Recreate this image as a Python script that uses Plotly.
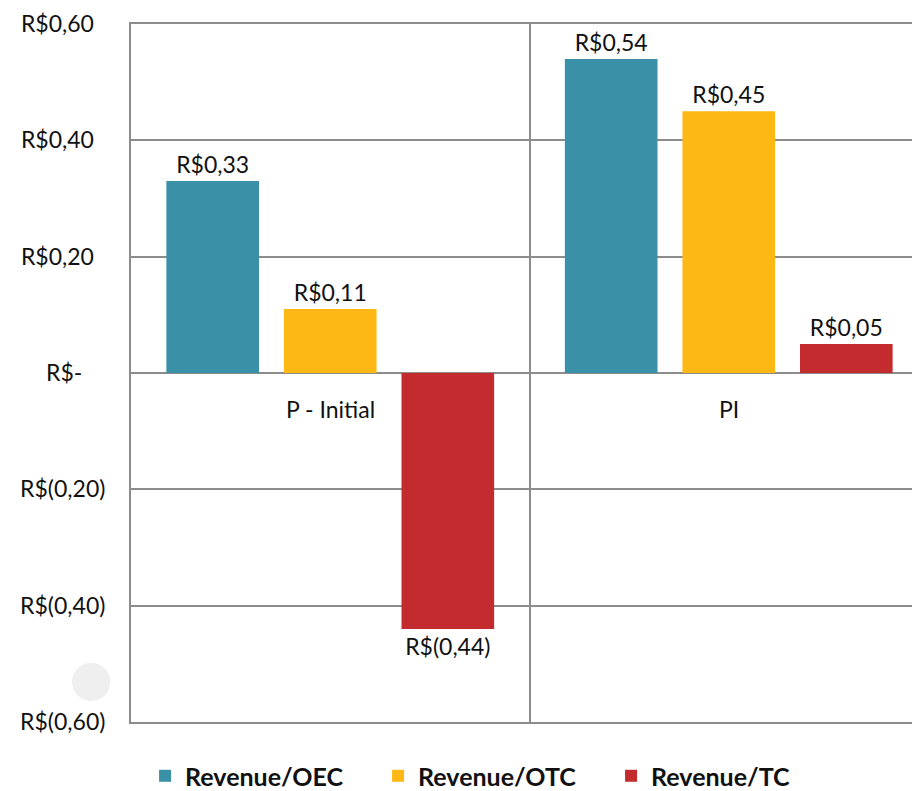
import plotly.graph_objects as go

categories = ["P - Initial", "PI"]
series_names = ["Revenue/OEC", "Revenue/OTC", "Revenue/TC"]
oec = [0.33, 0.54]
otc = [0.11, 0.45]
tc = [-0.44, 0.05]
series_values = [oec, otc, tc]
colors = ["#3A90A7", "#FDB813", "#C42B2F"]

tick_vals = [0.6, 0.4, 0.2, 0.0, -0.2, -0.4, -0.6]
tick_text = ["R$0,60\u2002", "R$0,40\u2002", "R$0,20\u2002", "R$-\u2002\u2002", "R$(0,20)", "R$(0,40)", "R$(0,60)"]


def fmt(v):
    s = f"{abs(v):.2f}".replace(".", ",")
    return f"R$({s})" if v < 0 else f"R${s}"


FONT = "Lato"
fig = go.Figure()
for name, vals, col in zip(series_names, series_values, colors):
    fig.add_trace(go.Bar(
        name=name, x=categories, y=vals, marker=dict(color=col, line=dict(width=0)),
        text=[fmt(v) for v in vals], textposition="outside",
        textfont=dict(family=FONT, size=23, color="#111111"),
        cliponaxis=False,
    ))

for c in categories:
    fig.add_annotation(x=c, y=0, xref="x", yref="y", text=c, showarrow=False,
                       yshift=-36, font=dict(family=FONT, size=23, color="#111111"))

# faint watermark blob at lower left
fig.add_shape(type="circle", xref="paper", yref="paper", layer="below",
              x0=-0.074, x1=-0.026, y0=0.03, y1=0.085,
              fillcolor="#EFEFEF", line=dict(width=0))

fig.update_layout(
    width=920, height=791,
    margin=dict(l=123, r=0, t=16, b=77, autoexpand=False),
    plot_bgcolor="white", paper_bgcolor="white",
    barmode="group", bargap=0.115, bargroupgap=0.212,
    font=dict(family=FONT, size=23, color="#111111"),
    showlegend=True,
    legend=dict(orientation="h", xref="container", x=0.149, xanchor="left",
                yref="paper", y=-0.0774, yanchor="middle",
                font=dict(family=FONT, size=25, color="#111111", weight="bold"),
                itemwidth=30, tracegroupgap=0, entrywidth=188,
                entrywidthmode="pixels"),
    xaxis=dict(type="category", range=[-0.5, 1.5], showticklabels=False,
               tickson="boundaries", showgrid=True, gridcolor="#8C8C8C", gridwidth=2,
               ticks="", showline=True, mirror=True, linecolor="#8C8C8C", linewidth=2,
               zeroline=False, automargin=False),
    yaxis=dict(range=[-0.6, 0.6], tickvals=tick_vals, ticktext=tick_text,
               showgrid=True, gridcolor="#8C8C8C", gridwidth=2,
               zeroline=True, zerolinecolor="#8C8C8C", zerolinewidth=2,
               showline=True, linecolor="#8C8C8C", linewidth=2,
               ticks="", ticklabelstandoff=19, automargin=False,
               tickfont=dict(family=FONT, size=23, color="#111111")),
)

fig.write_html("out.html")
